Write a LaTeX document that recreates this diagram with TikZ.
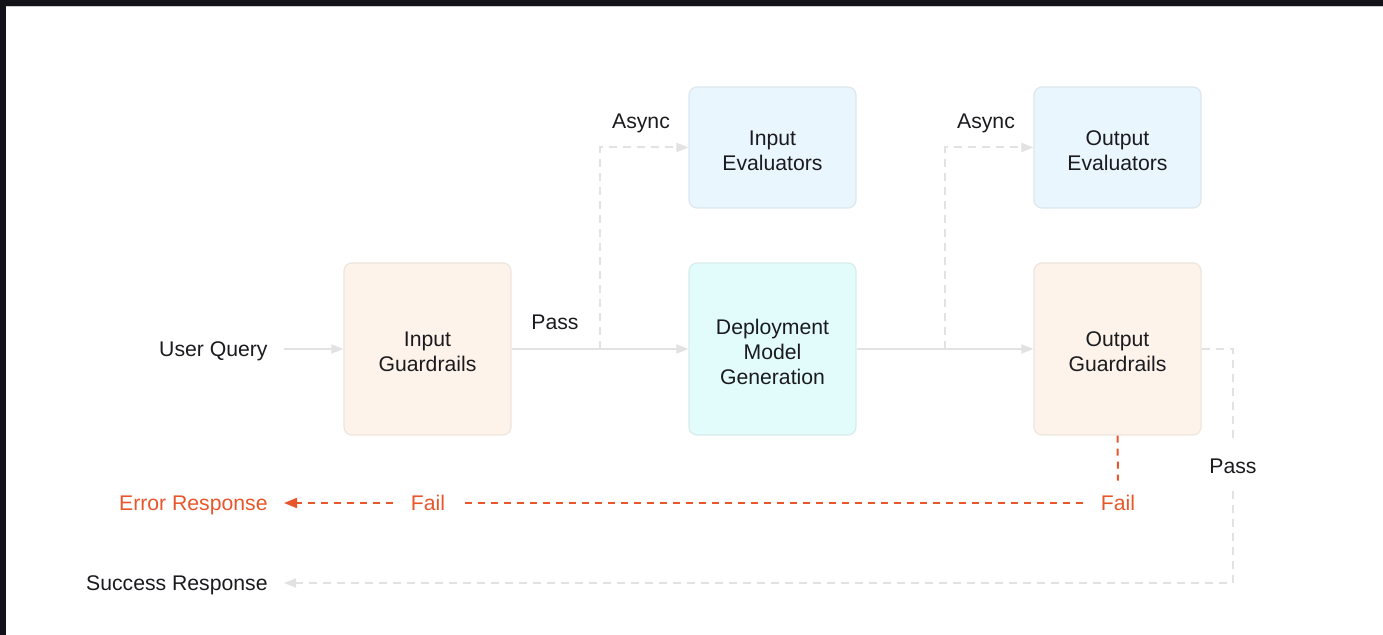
\documentclass[tikz,border=0pt]{standalone}
\usepackage{fontspec}
\setmainfont{Liberation Sans}
\usetikzlibrary{arrows.meta}

\definecolor{ink}{HTML}{1B1B1F}
\definecolor{frame}{HTML}{131218}
\definecolor{wire}{HTML}{E2E2E2}
\definecolor{failc}{HTML}{E8572B}
\definecolor{guardfill}{HTML}{FDF3EA}
\definecolor{guardline}{HTML}{EEE5DC}
\definecolor{modelfill}{HTML}{E1FCFB}
\definecolor{modelline}{HTML}{D8ECEB}
\definecolor{evalfill}{HTML}{E9F6FD}
\definecolor{evalline}{HTML}{DCE8EE}

% strut that gives the first line of a box a fixed height
\newcommand{\firstline}{\rule{0pt}{10.5pt}}

\tikzset{
  box/.style={rounded corners=4pt, line width=0.6pt, align=center,
    minimum width=83.5pt, text=ink, inner sep=0pt},
  guard/.style={box, fill=guardfill, draw=guardline, minimum height=86pt},
  model/.style={box, fill=modelfill, draw=modelline, minimum height=86pt},
  evalbox/.style={box, fill=evalfill, draw=evalline, minimum height=60.5pt},
  oneline/.style={text height=7.7pt, text depth=0pt},
  lbl/.style={oneline, text=ink, inner sep=0pt},
  endtext/.style={oneline, anchor=east, inner xsep=8pt, inner ysep=0pt},
  flow/.style={draw=wire, line width=1pt, -{Triangle[length=6pt,width=4.5pt]}},
  asyncline/.style={draw=wire, line width=1pt, dash pattern=on 4pt off 3pt},
  async/.style={asyncline, -{Triangle[length=6pt,width=4.5pt]}},
  failline/.style={draw=failc, line width=1pt, dash pattern=on 3.5pt off 3pt},
  failarrow/.style={failline, -{Triangle[length=6.5pt,width=5pt]}},
  faillbl/.style={oneline, text=failc, inner sep=0pt, minimum width=35pt, minimum height=22pt},
}

\begin{document}
\begin{tikzpicture}[x=0.5pt, y=-0.5pt,
  font=\fontsize{10.6pt}{12.5pt}\selectfont]
  % page and dark window edges
  \fill[white] (0,0) rectangle (1383,635);
  \fill[frame] (0,0) rectangle (1383,6);
  \fill[frame] (0,0) rectangle (6,635);
  \fill[black!20] (6,6) rectangle (1383,7);
  \useasboundingbox (0,0) rectangle (1383,635);

  % boxes
  \node[guard] (ig) at (427.5,349) {\firstline Input\\Guardrails};
  \node[model] (dm) at (772.5,349) {\firstline Deployment\\Model\\Generation};
  \node[guard] (og) at (1117.5,349) {\firstline Output\\Guardrails};
  \node[evalbox] (ie) at (772.5,147.5) {\firstline Input\\Evaluators};
  \node[evalbox] (oe) at (1117.5,147.5) {\firstline Output\\Evaluators};

  % end points of the flow
  \node[endtext, text=ink] (uq) at (284,349) {User Query};
  \node[endtext, text=failc] (err) at (284,503) {Error Response};
  \node[endtext, text=ink] (succ) at (284,583) {Success Response};

  % labels
  \node[lbl] (pass1) at (555,322) {Pass};
  \node[lbl] (async1) at (641,121) {Async};
  \node[lbl] (async2) at (986,121) {Async};
  \node[lbl, minimum height=24.5pt] (pass2) at (1233,466) {Pass};
  \node[faillbl] (fail2) at (1118,503) {Fail};
  \node[faillbl] (fail1) at (428,503) {Fail};

  % branch points for the async evaluators
  \coordinate (b1) at (600,349);
  \coordinate (b2) at (945,349);

  % main path
  \draw[flow] (uq.east) -- (ig.west);
  \draw[flow] (ig.east) -- (dm.west);
  \draw[flow] (dm.east) -- (og.west);

  % async evaluation
  \draw[async] (b1) |- (ie.west);
  \draw[async] (b2) |- (oe.west);

  % success path
  \draw[asyncline] (og.east) -| (pass2.north);
  \draw[async] (pass2.south) |- (succ.east);

  % failure path
  \draw[failline] (og.south) -- (fail2.north);
  \draw[failline] (fail2.west) -- (fail1.east);
  \draw[failarrow] (fail1.west) -- (err.east);
\end{tikzpicture}
\end{document}
